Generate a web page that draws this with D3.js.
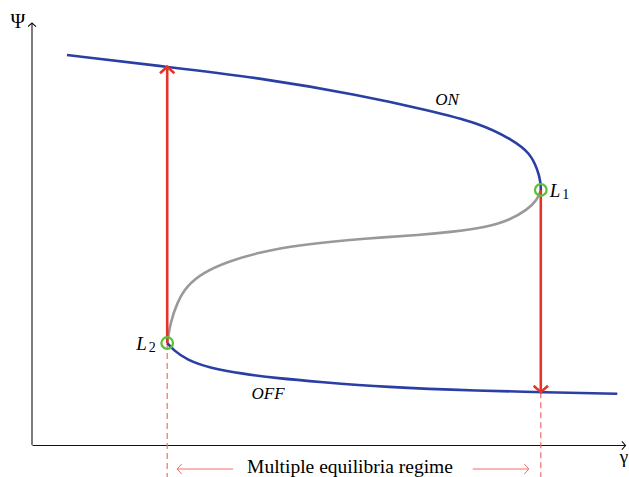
<!DOCTYPE html>
<html>
<head>
<meta charset="utf-8">
<script src="https://cdn.jsdelivr.net/npm/d3@7"></script>
<style>
  body { margin: 0; background: #fff; }
  text { font-family: "Liberation Serif", "Times New Roman", Times, "DejaVu Serif", "Noto Serif", serif; }
</style>
</head>
<body>
<div id="chart"></div>
<script>
// S-curve branches (gamma, psi), arbitrary units 0..10
const onBranch = [
    [0.59, 9.22], [2.28, 8.94], [3.84, 8.68], [5.53, 8.27], [6.66, 7.92],
    [7.55, 7.61], [8.11, 7.21], [8.40, 6.90], [8.53, 6.50], [8.58, 6.19], [8.58, 6.03]
];
const unstableBranch = [
    [8.58, 6.03], [8.52, 5.79], [8.35, 5.56], [8.06, 5.32], [7.67, 5.15],
    [7.10, 5.04], [6.49, 4.96], [5.92, 4.91], [5.36, 4.85], [4.52, 4.73],
    [3.84, 4.56], [3.29, 4.33], [2.88, 4.07], [2.61, 3.76], [2.45, 3.38],
    [2.33, 2.88], [2.28, 2.41]
];
const offBranch = [
    [2.28, 2.41], [2.38, 2.25], [2.61, 2.01], [3.00, 1.82], [3.56, 1.68],
    [4.13, 1.58], [4.86, 1.49], [5.92, 1.37], [7.61, 1.28], [8.58, 1.25], [9.87, 1.21]
];
// saddle-node points
const tippingPoints = [
    { name: 'L', sub: '1', g: 8.58, p: 6.03, side: 'right' },
    { name: 'L', sub: '2', g: 2.28, p: 2.41, side: 'left' }
];
// jumps: from tipping point to the other branch
const jumps = [
    { g: 2.28, from: 2.41, to: 8.94 },
    { g: 8.58, from: 6.03, to: 1.25 }
];

const width = 629, height = 477;

const x = d3.scaleLinear().domain([0, 10]).range([32, 625]);
const y = d3.scaleLinear().domain([0, 10]).range([445, 22]);

const svg = d3.create('svg')
    .attr('width', width)
    .attr('height', height);

const defs = svg.append('defs');
function chevron(id, color, size, sw) {
    defs.append('marker')
        .attr('id', id)
        .attr('markerUnits', 'userSpaceOnUse')
        .attr('viewBox', `${-size} ${-size} ${2 * size} ${2 * size}`)
        .attr('markerWidth', 2 * size)
        .attr('markerHeight', 2 * size)
        .attr('refX', 0)
        .attr('refY', 0)
        .attr('orient', 'auto')
        .append('path')
        .attr('d', `M${-size * 0.8},${-size * 0.9} L0,0 L${-size * 0.8},${size * 0.9}`)
        .attr('fill', 'none')
        .attr('stroke', color)
        .attr('stroke-width', sw)
        .attr('stroke-linejoin', 'miter');
}
chevron('axisHead', '#111', 4.5, 1.1);
chevron('redHead', '#e3342a', 8, 2.6);
chevron('pinkHead', '#ee6e6e', 5.5, 1);

// axes (no ticks, just arrows)
svg.append('g')
    .attr('transform', `translate(0, ${y(0)})`)
    .call(d3.axisBottom(x).ticks(0).tickSizeOuter(0))
    .select('.domain')
    .attr('stroke', '#111')
    .attr('stroke-width', 1.1)
    .attr('marker-end', 'url(#axisHead)');

svg.append('g')
    .attr('transform', `translate(${x(0)}, 0)`)
    .call(d3.axisLeft(y).ticks(0).tickSizeOuter(0))
    .select('.domain')
    .attr('stroke', '#111')
    .attr('stroke-width', 1.1)
    .attr('d', `M0,${y(0)}V${y(10) + 1}`)
    .attr('marker-end', 'url(#axisHead)');

svg.append('text')
    .attr('x', 18).attr('y', 28)
    .attr('text-anchor', 'middle')
    .attr('font-size', 20)
    .text('Ψ');

svg.append('text')
    .attr('x', 624).attr('y', 463)
    .attr('text-anchor', 'middle')
    .attr('font-size', 19)
    .text('γ');

// dashed guides down to the axis and beyond
svg.selectAll('line.guide')
    .data(jumps)
    .join('line')
    .attr('class', 'guide')
    .attr('x1', d => x(d.g))
    .attr('x2', d => x(d.g))
    .attr('y1', d => y(Math.min(d.from, d.to)))
    .attr('y2', height)
    .attr('stroke', '#ee6e6e')
    .attr('stroke-width', 1.2)
    .attr('stroke-dasharray', '6,4');

const line = d3.line()
    .x(d => x(d[0]))
    .y(d => y(d[1]))
    .curve(d3.curveBasis);

svg.append('path')
    .datum(unstableBranch)
    .attr('d', line)
    .attr('fill', 'none')
    .attr('stroke', '#999')
    .attr('stroke-width', 2.6);

svg.selectAll('path.stable')
    .data([onBranch, offBranch])
    .join('path')
    .attr('class', 'stable')
    .attr('d', line)
    .attr('fill', 'none')
    .attr('stroke', '#2a3fa3')
    .attr('stroke-width', 2.6);

// red jump arrows
svg.selectAll('line.jump')
    .data(jumps)
    .join('line')
    .attr('class', 'jump')
    .attr('x1', d => x(d.g))
    .attr('x2', d => x(d.g))
    .attr('y1', d => y(d.from))
    .attr('y2', d => y(d.to))
    .attr('stroke', '#e3342a')
    .attr('stroke-width', 2.6)
    .attr('marker-end', 'url(#redHead)');

// tipping points
svg.selectAll('circle.tip')
    .data(tippingPoints)
    .join('circle')
    .attr('class', 'tip')
    .attr('cx', d => x(d.g))
    .attr('cy', d => y(d.p))
    .attr('r', 5.8)
    .attr('fill', 'none')
    .attr('stroke', '#5cbf3c')
    .attr('stroke-width', 2.3);

const tipLabels = svg.selectAll('text.tip')
    .data(tippingPoints)
    .join('text')
    .attr('class', 'tip')
    .attr('x', d => d.side === 'right' ? x(d.g) + 9 : x(d.g) - 31)
    .attr('y', d => y(d.p) + 7)
    .attr('font-size', 19);
tipLabels.append('tspan')
    .attr('font-style', 'italic')
    .text(d => d.name);
tipLabels.append('tspan')
    .attr('dx', 2)
    .attr('dy', 2)
    .attr('font-size', 14)
    .text(d => d.sub);

// branch labels
svg.append('text')
    .attr('x', x(7.0)).attr('y', y(8.04))
    .attr('text-anchor', 'middle')
    .attr('font-size', 17)
    .attr('font-style', 'italic')
    .text('ON');

svg.append('text')
    .attr('x', x(3.98)).attr('y', y(1.09))
    .attr('text-anchor', 'middle')
    .attr('font-size', 17)
    .attr('font-style', 'italic')
    .text('OFF');

// regime annotation
const regimeY = 469;
svg.append('text')
    .attr('x', (x(jumps[0].g) + x(jumps[1].g)) / 2 - 4)
    .attr('y', regimeY + 4)
    .attr('text-anchor', 'middle')
    .attr('font-size', 19.5)
    .text('Multiple equilibria regime');

svg.selectAll('line.regime')
    .data([[x(jumps[0].g) + 66, x(jumps[0].g) + 10], [x(jumps[1].g) - 68, x(jumps[1].g) - 12]])
    .join('line')
    .attr('class', 'regime')
    .attr('x1', d => d[0])
    .attr('x2', d => d[1])
    .attr('y1', regimeY)
    .attr('y2', regimeY)
    .attr('stroke', '#ee6e6e')
    .attr('stroke-width', 1)
    .attr('marker-end', 'url(#pinkHead)');

document.getElementById('chart').appendChild(svg.node());
</script>
</body>
</html>
